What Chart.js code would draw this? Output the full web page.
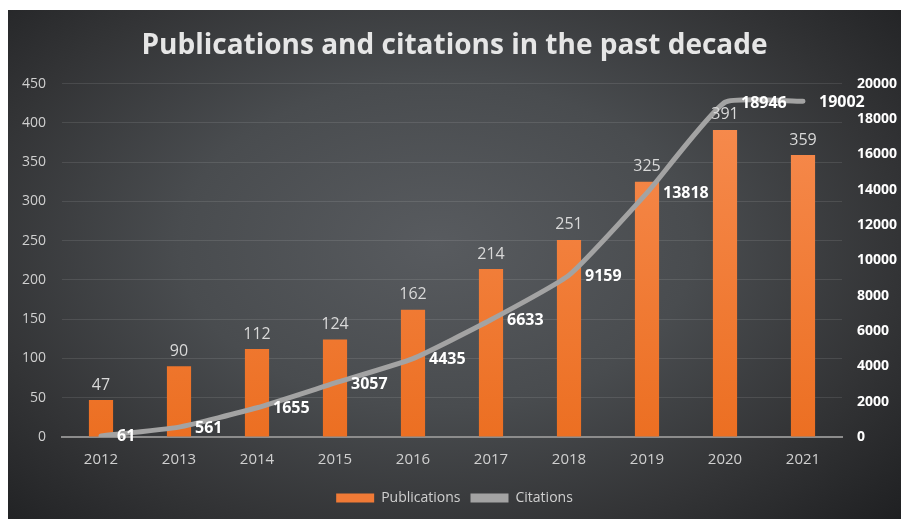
<!DOCTYPE html>
<html>
<head>
<meta charset="utf-8">
<script src="https://cdn.jsdelivr.net/npm/chart.js@4"></script>
<style>
  body { margin: 0; background: #fff; }
  #wrap {
    position: absolute; left: 8px; top: 10px; width: 893px; height: 509px;
    background: radial-gradient(ellipse 72% 80% at 48% 46%, #585b5f 0%, #494c4f 40%, #333436 72%, #1e1f21 100%);
  }
</style>
</head>
<body>
<div id="wrap"><canvas id="chart" width="893" height="509"></canvas></div>
<script>
// chart data
const years = ["2012", "2013", "2014", "2015", "2016", "2017", "2018", "2019", "2020", "2021"];
const publications = [47, 90, 112, 124, 162, 214, 251, 325, 391, 359];
const citations = [61, 561, 1655, 3057, 4435, 6633, 9159, 13818, 18946, 19002];

const font = "'Open Sans', 'DejaVu Sans', sans-serif";

// draw the numbers next to the bars and points
const valueLabels = {
  id: "valueLabels",
  afterDatasetsDraw(chart) {
    const ctx = chart.ctx;
    ctx.save();
    ctx.font = "16px " + font;
    ctx.fillStyle = "#d9d9d9";
    ctx.textAlign = "center";
    ctx.textBaseline = "bottom";
    chart.getDatasetMeta(0).data.forEach((bar, i) => {
      ctx.fillText(publications[i], bar.x, bar.y - 7);
    });
    ctx.font = "bold 16px " + font;
    ctx.fillStyle = "#ffffff";
    ctx.textAlign = "left";
    ctx.textBaseline = "middle";
    chart.getDatasetMeta(1).data.forEach((pt, i) => {
      ctx.fillText(citations[i], pt.x + 16, pt.y + 1);
    });
    ctx.restore();
  }
};

const ctx = document.getElementById("chart");
new Chart(ctx, {
  type: "bar",
  data: {
    labels: years,
    datasets: [
      {
        label: "Publications",
        data: publications,
        yAxisID: "y",
        order: 1,
        backgroundColor: (c) => {
          const area = c.chart.chartArea;
          if (!area) return "#f07a36";
          const g = c.chart.ctx.createLinearGradient(0, area.top, 0, area.bottom);
          g.addColorStop(0, "#f78d52");
          g.addColorStop(1, "#ec6f22");
          return g;
        },
        categoryPercentage: 1,
        barPercentage: 0.31,
      },
      {
        label: "Citations",
        type: "line",
        data: citations,
        yAxisID: "y1",
        order: 0,
        borderColor: "#a3a3a3",
        backgroundColor: "#a3a3a3",
        borderWidth: 5,
        pointRadius: 0,
        tension: 0.15,
        borderCapStyle: "round",
      },
    ],
  },
  options: {
    responsive: false,
    animation: false,
    layout: { padding: { left: 0, right: 0, top: 0, bottom: 4 } },
    plugins: {
      title: {
        display: true,
        text: "Publications and citations in the past decade",
        color: "#e6e6e6",
        font: { family: font, size: 28, weight: "bold" },
        padding: { top: 19, bottom: 21 },
      },
      legend: {
        position: "bottom",
        labels: {
          color: "#d0d0d0",
          font: { family: font, size: 14 },
          boxWidth: 38,
          boxHeight: 9,
          padding: 10,
          sort: (a, b) => a.datasetIndex - b.datasetIndex,
          generateLabels: (chart) => {
            const items = Chart.defaults.plugins.legend.labels.generateLabels(chart);
            items.forEach((it) => {
              it.lineWidth = 0;
              it.fillStyle = it.datasetIndex === 0 ? "#f07a36" : "#a3a3a3";
            });
            return items;
          },
        },
      },
      tooltip: { enabled: false },
    },
    scales: {
      x: {
        grid: { display: false },
        border: { color: "#8c8c8c", width: 2 },
        ticks: { color: "#d0d0d0", font: { family: font, size: 15 }, padding: 6 },
        afterFit: (s) => { s.height = 44; },
      },
      y: {
        position: "left",
        min: 0,
        max: 450,
        ticks: { stepSize: 50, color: "#d0d0d0", font: { family: font, size: 14 }, padding: 16 },
        grid: { color: "rgba(255,255,255,0.1)", drawTicks: false },
        border: { display: false },
        afterFit: (s) => { s.width = 54; },
      },
      y1: {
        position: "right",
        min: 0,
        max: 20000,
        ticks: {
          stepSize: 2000,
          color: "#ffffff",
          font: { family: font, size: 14, weight: "bold" },
          padding: 15,
          callback: (v) => String(v),
        },
        grid: { drawOnChartArea: false, drawTicks: false },
        border: { display: false },
        afterFit: (s) => { s.width = 59; },
      },
    },
  },
  plugins: [valueLabels],
});
</script>
</body>
</html>
